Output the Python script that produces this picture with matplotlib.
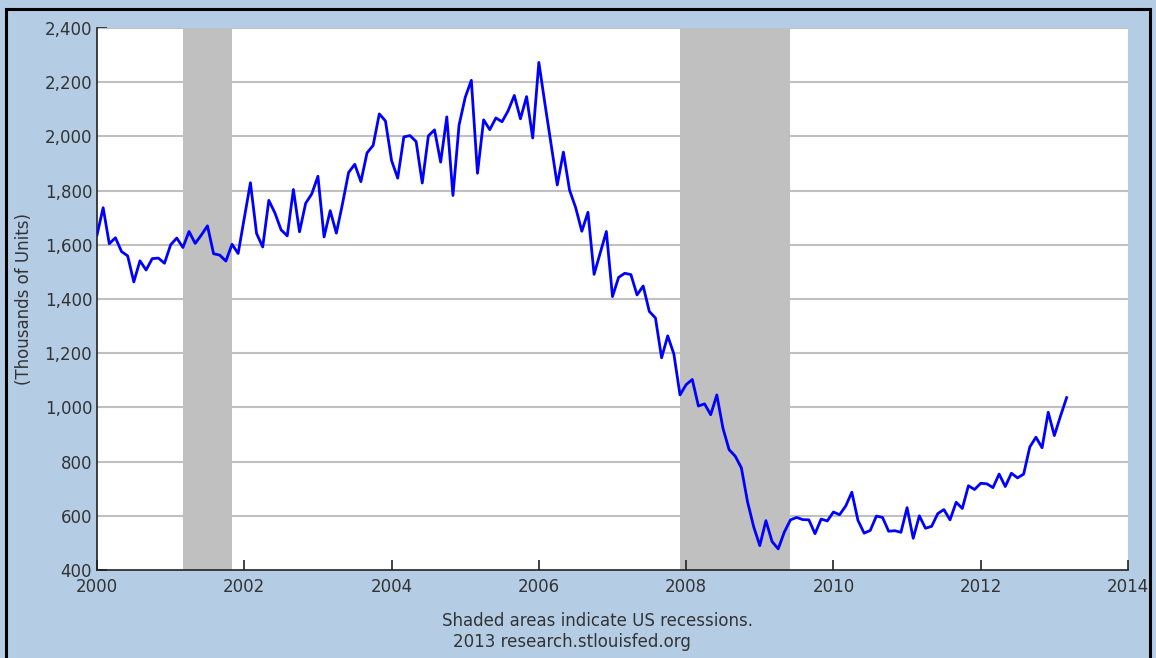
import numpy as np
import matplotlib.pyplot as plt
from matplotlib.ticker import FuncFormatter
from matplotlib.patches import Rectangle


# =========================
# Data: housing starts, monthly, thousands of units (Jan 2000 - Mar 2013)
# =========================
start_year = 2000
starts = {
    2000: [1636, 1737, 1604, 1626, 1575, 1559, 1463, 1541, 1507, 1549, 1551, 1532],
    2001: [1600, 1625, 1590, 1649, 1605, 1636, 1670, 1567, 1562, 1540, 1602, 1568],
    2002: [1698, 1829, 1642, 1592, 1764, 1717, 1655, 1633, 1804, 1648, 1753, 1788],
    2003: [1853, 1629, 1726, 1643, 1751, 1867, 1897, 1833, 1939, 1967, 2083, 2057],
    2004: [1911, 1846, 1998, 2003, 1981, 1828, 2002, 2024, 1905, 2072, 1782, 2042],
    2005: [2144, 2207, 1864, 2061, 2025, 2068, 2054, 2095, 2151, 2065, 2147, 1994],
    2006: [2273, 2119, 1969, 1821, 1942, 1802, 1737, 1650, 1720, 1491, 1570, 1649],
    2007: [1409, 1480, 1495, 1490, 1415, 1448, 1354, 1330, 1183, 1264, 1197, 1046],
    2008: [1084, 1103, 1005, 1013, 973, 1046, 923, 844, 820, 777, 652, 560],
    2009: [490, 582, 505, 478, 540, 585, 594, 586, 585, 534, 588, 581],
    2010: [614, 604, 636, 687, 583, 536, 546, 599, 594, 543, 545, 539],
    2011: [630, 517, 600, 554, 561, 608, 623, 585, 650, 627, 711, 697],
    2012: [720, 718, 704, 754, 708, 757, 740, 754, 854, 890, 851, 982],
    2013: [896, 968, 1036],
}

# recessions as (start year, start month, end year, end month)
recessions = [(2001, 3, 2001, 11), (2007, 12, 2009, 6)]

y_ticks = [400, 600, 800, 1000, 1200, 1400, 1600, 1800, 2000, 2200, 2400]
x_ticks = [2000, 2002, 2004, 2006, 2008, 2010, 2012, 2014]

# =========================
# Build series
# =========================
dates = []
values = []
for yr, vals in starts.items():
    for m, v in enumerate(vals):
        dates.append(yr + m / 12.0)
        values.append(v)

# =========================
# Figure
# =========================
W, H = 1156, 658
bg = "#b4cde5"
fig = plt.figure(figsize=(W / 100, H / 100), dpi=100, facecolor=bg)

left, right, top, bottom = 97, 1128, 28, 570
ax = fig.add_axes([left / W, 1 - bottom / H, (right - left) / W, (bottom - top) / H])
ax.set_facecolor("white")

for y0, m0, y1, m1 in recessions:
    ax.axvspan(y0 + (m0 - 1) / 12.0, y1 + (m1 - 1) / 12.0, color="#c0c0c0", lw=0, zorder=1)

for yv in y_ticks[1:]:
    ax.axhline(yv, color="#c0c0c0", lw=1.5, zorder=2)

ax.plot(dates, values, color="#0000ff", lw=2.0, zorder=3)

ax.set_xlim(2000, 2014)
ax.set_ylim(400, 2400)
ax.set_xticks(x_ticks)
ax.set_yticks(y_ticks)
ax.yaxis.set_major_formatter(FuncFormatter(lambda v, p: f"{int(v):,}"))
ax.tick_params(direction="in", length=7, width=1.2, labelsize=12,
               labelcolor="#333333", color="#222222")
ax.tick_params(axis="x", pad=6)

for s in ["top", "right"]:
    ax.spines[s].set_visible(False)
for s in ["left", "bottom"]:
    ax.spines[s].set_color("#222222")
    ax.spines[s].set_linewidth(1.2)

ax.set_ylabel("(Thousands of Units)", fontsize=12, color="#333333", labelpad=8)

fig.text(597 / W, 1 - 621 / H, "Shaded areas indicate US recessions.",
         ha="center", va="center", fontsize=12, color="#333333")
fig.text(572 / W, 1 - 642 / H, "2013 research.stlouisfed.org",
         ha="center", va="center", fontsize=12, color="#333333")

# outer frame
fig.patches.append(Rectangle((6 / W, -0.05), (1150 - 6) / W, 1 - 9 / H + 0.05,
                             transform=fig.transFigure, fill=False,
                             edgecolor="black", lw=2.2))

fig.savefig("out.png", dpi=100, facecolor=bg)
